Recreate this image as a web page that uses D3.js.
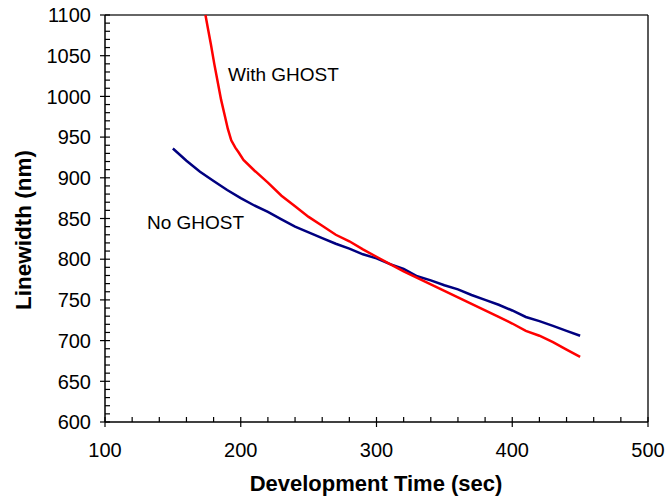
<!DOCTYPE html>
<html><head><meta charset="utf-8">
<script src="https://cdn.jsdelivr.net/npm/d3@7"></script>
<style>body{margin:0;background:#fff}svg{display:block}</style>
</head><body>
<svg id="c" width="665" height="501"></svg>
<script>
const noGhostX = [150,160,170,180,190,200,210,220,230,240,250,260,270,280,290,300,310,320,330,340,350,360,370,380,390,400,410,420,430,440,450];
const noGhostY = [936,921,907.5,896,885,875,866,858,849,840,833,826,819,813,806,801,794,788,779,774,768,763,756,750,744,737,729,724,718,712,706];
const withGhostX = [174,176,178,180.5,183,185.5,188,190.5,193,196,198.5,202,210,220,230,240,250,260,270,280,290,300,310,320,330,340,350,360,370,380,390,400,410,420,430,440,450];
const withGhostY = [1100,1082,1064,1040,1018,996,978,960,946,937,931,922,909,894,878,865,852,841,830,822,812,803,794,785,777,769,761,753,745,737,729,721,712,706,698,689,680];
const xTicks = [100,200,300,400,500];
const yTicks = [600,650,700,750,800,850,900,950,1000,1050,1100];
const seriesLabels = ["No GHOST","With GHOST"];

const svg = d3.select("#c");
const x = d3.scaleLinear().domain([100,500]).range([105,648]);
const y = d3.scaleLinear().domain([600,1100]).range([422,15]);
const font = "Liberation Sans, Arial, sans-serif";

// frame top/right
svg.append("line").attr("x1",105).attr("x2",648).attr("y1",15).attr("y2",15).attr("stroke","#333").attr("stroke-width",1.3);
svg.append("line").attr("x1",648).attr("x2",648).attr("y1",15).attr("y2",422).attr("stroke","#000").attr("stroke-width",1.3);

// y axis
const ya = svg.append("g").attr("transform","translate(105,0)");
ya.append("line").attr("y1",15).attr("y2",422).attr("stroke","#000").attr("stroke-width",1.5);
d3.range(600,1101,10).forEach(v=>{
  const major = v%50===0;
  ya.append("line").attr("x1",major?-5:0).attr("x2",5).attr("y1",y(v)).attr("y2",y(v)).attr("stroke","#000").attr("stroke-width",1.2);
});
yTicks.forEach(v=>{
  ya.append("text").attr("x",-14).attr("y",y(v)).attr("dy","0.36em").attr("text-anchor","end")
    .attr("font-family",font).attr("font-size",20).text(v);
});

// x axis
const xa = svg.append("g").attr("transform","translate(0,422)");
xa.append("line").attr("x1",105).attr("x2",648).attr("stroke","#000").attr("stroke-width",1.5);
d3.range(100,501,20).forEach(v=>{
  const major = v%100===0;
  xa.append("line").attr("x1",x(v)).attr("x2",x(v)).attr("y1",-5).attr("y2",major?5:0).attr("stroke","#000").attr("stroke-width",1.2);
});
xTicks.forEach(v=>{
  xa.append("text").attr("x",x(v)).attr("y",35).attr("text-anchor","middle")
    .attr("font-family",font).attr("font-size",20).text(v);
});

// titles
svg.append("text").attr("x",376).attr("y",491).attr("text-anchor","middle")
  .attr("font-family",font).attr("font-size",22).attr("font-weight","bold").text("Development Time (sec)");
svg.append("text").attr("transform","translate(31,230) rotate(-90)").attr("text-anchor","middle")
  .attr("font-family",font).attr("font-size",22.5).attr("font-weight","bold").text("Linewidth (nm)");

// lines
const line = d3.line().x(d=>x(d[0])).y(d=>y(d[1]));
svg.append("path").datum(noGhostX.map((v,i)=>[v,noGhostY[i]])).attr("d",line)
  .attr("fill","none").attr("stroke","#000080").attr("stroke-width",2.5);
svg.append("path").datum(withGhostX.map((v,i)=>[v,withGhostY[i]])).attr("d",line)
  .attr("fill","none").attr("stroke","#ff0000").attr("stroke-width",2.5);

// labels
svg.append("text").attr("x",147).attr("y",229).attr("font-family",font).attr("font-size",19).text(seriesLabels[0]);
svg.append("text").attr("x",228).attr("y",81).attr("font-family",font).attr("font-size",19).text(seriesLabels[1]);
</script>
</body></html>
